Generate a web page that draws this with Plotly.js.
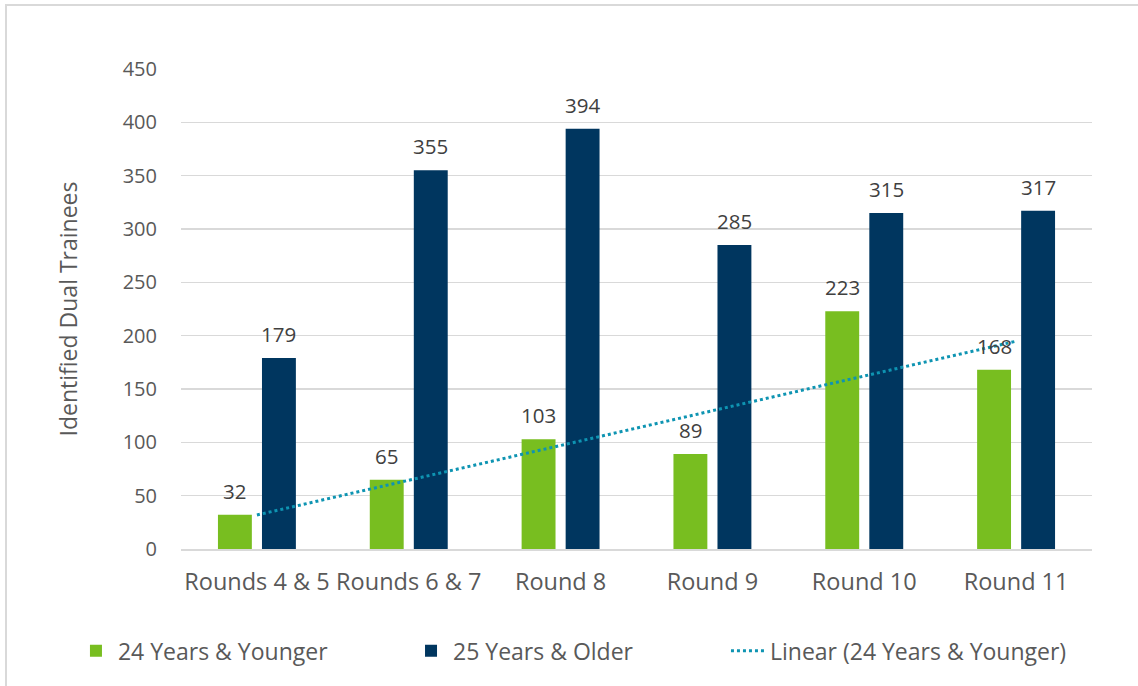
<!DOCTYPE html>
<html>
<head>
<meta charset="utf-8">
<script src="https://cdn.plot.ly/plotly-3.0.1.min.js"></script>
<style>
  html, body { margin: 0; padding: 0; background: #ffffff; overflow: hidden; }
  #chart { width: 1138px; height: 686px; position: relative; }
  #frame { position: absolute; left: 5px; top: 4px; width: 2000px; height: 2000px;
           border-left: 2px solid #d9d9d9; border-top: 2px solid #d9d9d9; pointer-events: none; }
</style>
</head>
<body>
<div id="chart"></div>
<div id="frame"></div>
<script>
const categories = ["Rounds 4 & 5", "Rounds 6 & 7", "Round 8", "Round 9", "Round 10", "Round 11"];
const younger = [32, 65, 103, 89, 223, 168];
const older = [179, 355, 394, 285, 315, 317];
const yTicks = [0, 50, 100, 150, 200, 250, 300, 350, 400, 450];

// Linear trendline (least squares) of the "24 Years & Younger" series, as Excel computes it
const n = younger.length;
const xs = younger.map((_, i) => i + 1);
const mx = xs.reduce((a, b) => a + b, 0) / n;
const my = younger.reduce((a, b) => a + b, 0) / n;
let sxy = 0, sxx = 0;
for (let i = 0; i < n; i++) { sxy += (xs[i] - mx) * (younger[i] - my); sxx += (xs[i] - mx) ** 2; }
const slope = sxy / sxx;
const intercept = my - slope * mx;
const trend = xs.map(x => intercept + slope * x);

const GREEN = "#78BE20", NAVY = "#00365F", TEAL = "#0E94B2";
const FONT = "'Open Sans', Lato, sans-serif";

const traces = [
  { type: "bar", name: "24 Years & Younger", x: categories, y: younger, legend: "legend",
    marker: { color: GREEN }, hoverinfo: "skip" },
  { type: "bar", name: "25 Years & Older", x: categories, y: older, legend: "legend2",
    marker: { color: NAVY }, hoverinfo: "skip" },
  { type: "scatter", mode: "lines", name: "Linear (24 Years & Younger)", x: categories, y: trend,
    legend: "legend3", line: { color: TEAL, width: 3, dash: "dot" }, hoverinfo: "skip" }
];

const annotations = [];
categories.forEach((c, i) => {
  annotations.push({ x: c, y: younger[i], xref: "x", yref: "y", text: String(younger[i]),
    showarrow: false, yanchor: "bottom", xshift: -22, yshift: 8,
    font: { family: FONT, size: 20.5, color: "#404040" } });
  annotations.push({ x: c, y: older[i], xref: "x", yref: "y", text: String(older[i]),
    showarrow: false, yanchor: "bottom", xshift: 22, yshift: 8,
    font: { family: FONT, size: 20.5, color: "#404040" } });
});

const legendBase = (x) => ({ orientation: "h", x: x, xanchor: "left", y: -0.212, yanchor: "middle",
  font: { family: FONT, size: 23, color: "#595959" }, itemwidth: 34, bgcolor: "rgba(0,0,0,0)" });

const layout = {
  width: 1138, height: 686,
  margin: { l: 181, r: 46, t: 69, b: 137 },
  paper_bgcolor: "#ffffff", plot_bgcolor: "#ffffff",
  font: { family: FONT, color: "#595959" },
  barmode: "group", bargap: 0.42, bargroupgap: 0.23,
  showlegend: true,
  legend: legendBase(-0.1175),
  legend2: legendBase(0.2503),
  legend3: legendBase(0.5982),
  xaxis: { type: "category", tickfont: { family: FONT, size: 23.5, color: "#595959" },
    showgrid: false, showline: true, linecolor: "#d9d9d9", linewidth: 2,
    ticks: "", ticklabelstandoff: 11, fixedrange: true },
  yaxis: { range: [0, 450], tickvals: yTicks, ticktext: yTicks.map(String),
    tickfont: { family: FONT, size: 20, color: "#595959" },
    showgrid: true, gridcolor: "#d9d9d9", gridwidth: 1.5, zeroline: false,
    ticks: "", ticklabelstandoff: 23, fixedrange: true,
    title: { text: "Identified Dual Trainees", standoff: 38,
      font: { family: FONT, size: 23, color: "#595959" } } },
  annotations: annotations
};

Plotly.newPlot("chart", traces, layout, { displayModeBar: false, staticPlot: true });
</script>
</body>
</html>
